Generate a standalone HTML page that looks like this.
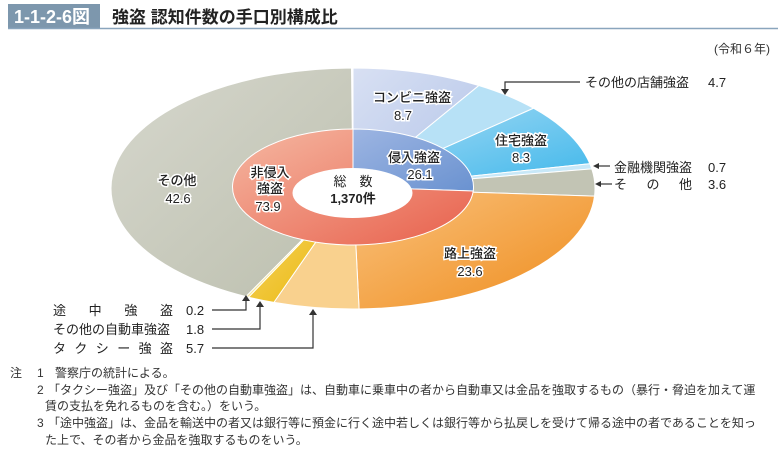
<!DOCTYPE html>
<html><head><meta charset="utf-8"><style>
body{margin:0;background:#fff;}
svg text{font-family:"Liberation Sans","Noto Sans CJK JP",sans-serif;}
</style></head><body>
<svg id="s" width="778" height="454" viewBox="0 0 778 454" xmlns="http://www.w3.org/2000/svg">
<defs>
<linearGradient id="gGray" x1="0" y1="0" x2="1" y2="1"><stop offset="0" stop-color="#d6d7cd"/><stop offset="1" stop-color="#bcbfae"/></linearGradient>
<linearGradient id="gOr" x1="0" y1="0" x2="1" y2="1"><stop offset="0" stop-color="#f9c27e"/><stop offset="1" stop-color="#ef8c1c"/></linearGradient>
<linearGradient id="gHouse" x1="0" y1="0" x2="1" y2="1"><stop offset="0" stop-color="#a9dcf5"/><stop offset="1" stop-color="#3cb6ea"/></linearGradient>
<linearGradient id="gConv" x1="0" y1="0" x2="1" y2="1"><stop offset="0" stop-color="#d8e0f3"/><stop offset="1" stop-color="#b3c4e8"/></linearGradient>
<linearGradient id="gIn" x1="0" y1="0" x2="1" y2="1"><stop offset="0" stop-color="#9db5e2"/><stop offset="1" stop-color="#6a92d0"/></linearGradient>
<linearGradient id="gNon" x1="0" y1="0" x2="1" y2="1"><stop offset="0" stop-color="#f5b8a2"/><stop offset="1" stop-color="#e8604c"/></linearGradient>
<linearGradient id="gY" x1="0" y1="0" x2="1" y2="1"><stop offset="0" stop-color="#f7d870"/><stop offset="1" stop-color="#e9b400"/></linearGradient>
</defs>
<rect x="8" y="4" width="92" height="24" fill="#7d97ad"/>
<text x="14" y="23" font-size="18" font-weight="bold" fill="#fff">1-1-2-6図</text>
<text x="112" y="23" font-size="17" font-weight="bold" fill="#222">強盗 認知件数の手口別構成比</text>
<line x1="8" y1="28.5" x2="778" y2="28.5" stroke="#8aa5bd" stroke-width="1.5"/>
<text x="770" y="53" font-size="12" fill="#333" text-anchor="end">(令和６年)</text>
<g id="pie"></g>
<g font-size="13" fill="#222" stroke="#fff" stroke-width="3" paint-order="stroke" text-anchor="middle" font-weight="500">
<text x="412" y="102">コンビニ強盗</text><text x="403" y="120">8.7</text>
<text x="521" y="145">住宅強盗</text><text x="521" y="162">8.3</text>
<text x="414" y="162">侵入強盗</text><text x="420" y="179">26.1</text>
<text x="270" y="177">非侵入</text><text x="270" y="193">強盗</text><text x="268" y="211">73.9</text>
<text x="177" y="185">その他</text><text x="178" y="203">42.6</text>
<text x="470" y="258">路上強盗</text><text x="470" y="276">23.6</text>
</g>
<g font-size="13" fill="#222" text-anchor="middle">
<text x="353" y="186">総　数</text><text x="353" y="203" font-weight="bold">1,370件</text>
</g>
<g font-size="13" fill="#222">
<text x="585" y="87">その他の店舗強盗</text><text x="708" y="87">4.7</text>
<text x="614" y="172">金融機関強盗</text><text x="708" y="172">0.7</text>
<text x="614" y="189" textLength="78">その他</text><text x="708" y="189">3.6</text>
<text x="53" y="315" textLength="120">途中強盗</text><text x="186" y="315">0.2</text>
<text x="53" y="334">その他の自動車強盗</text><text x="186" y="334">1.8</text>
<text x="53" y="353" textLength="120">タクシー強盗</text><text x="186" y="353">5.7</text>
</g>
<g stroke="#333" stroke-width="1.2" fill="none">
<polyline points="580,82 505,82 505,90"/>
<line x1="610" y1="166" x2="596" y2="166"/>
<line x1="612" y1="184" x2="598" y2="184"/>
<polyline points="212,310 246,310 246,300"/>
<polyline points="212,329 260,329 260,306"/>
<polyline points="212,348 313,348 313,314"/>
</g>
<g fill="#333">
<polygon points="501,89 509,89 505,95"/>
<polygon points="593,166 599,163 599,169"/>
<polygon points="595,184 601,181 601,187"/>
<polygon points="242,301 250,301 246,295"/>
<polygon points="256,307 264,307 260,301"/>
<polygon points="309,315 317,315 313,309"/>
</g>
<g font-size="12" fill="#333" font-family="'Liberation Serif','Noto Serif CJK SC',serif">
<text x="10" y="377">注</text><text x="37" y="377">1</text><text x="55" y="377">警察庁の統計による。</text>
<text x="37" y="394">2</text><text x="48" y="394">「タクシー強盗」及び「その他の自動車強盗」は、自動車に乗車中の者から自動車又は金品を強取するもの（暴行・脅迫を加えて運</text>
<text x="45" y="410">賃の支払を免れるものを含む。）をいう。</text>
<text x="37" y="427">3</text><text x="48" y="427">「途中強盗」は、金品を輸送中の者又は銀行等に預金に行く途中若しくは銀行等から払戻しを受けて帰る途中の者であることを知っ</text>
<text x="45" y="444">た上で、その者から金品を強取するものをいう。</text>
</g>
</svg>
<script>
(function(){
var g=document.getElementById('pie'),NS='http://www.w3.org/2000/svg';
function P(cx,cy,rx,ry,f){var t=f*2*Math.PI;return [cx+rx*Math.sin(t),cy-ry*Math.cos(t)];}
function sec(cx,cy,rx,ry,a,b,fill){
 var p0=P(cx,cy,rx,ry,a),p1=P(cx,cy,rx,ry,b),large=(b-a)>0.5?1:0;
 var d='M'+cx+','+cy+'L'+p0[0]+','+p0[1]+'A'+rx+','+ry+' 0 '+large+' 1 '+p1[0]+','+p1[1]+'Z';
 var e=document.createElementNS(NS,'path');e.setAttribute('d',d);e.setAttribute('fill',fill);
 e.setAttribute('stroke','#fff');e.setAttribute('stroke-width','1');g.appendChild(e);}
var outer=[[8.7,'url(#gConv)'],[4.7,'#b7e1f6'],[8.3,'url(#gHouse)'],[0.7,'#c8e8f8'],[3.6,'#c2c4b4'],[23.6,'url(#gOr)'],[5.7,'#f9d18e'],[1.8,'url(#gY)'],[0.2,'#f6e6a0'],[42.6,'url(#gGray)']];
var a=0;outer.forEach(function(s){var b=a+s[0]/100;sec(353,188.5,242,120.5,a,b,s[1]);a=b;});
sec(353,187,120.5,58,0,0.261,'url(#gIn)');sec(353,187,120.5,58,0.261,1,'url(#gNon)');
var h=document.createElementNS(NS,'ellipse');h.setAttribute('cx',352.5);h.setAttribute('cy',193);h.setAttribute('rx',60);h.setAttribute('ry',25);h.setAttribute('fill','#fff');g.appendChild(h);
})();
</script>
</body></html>
